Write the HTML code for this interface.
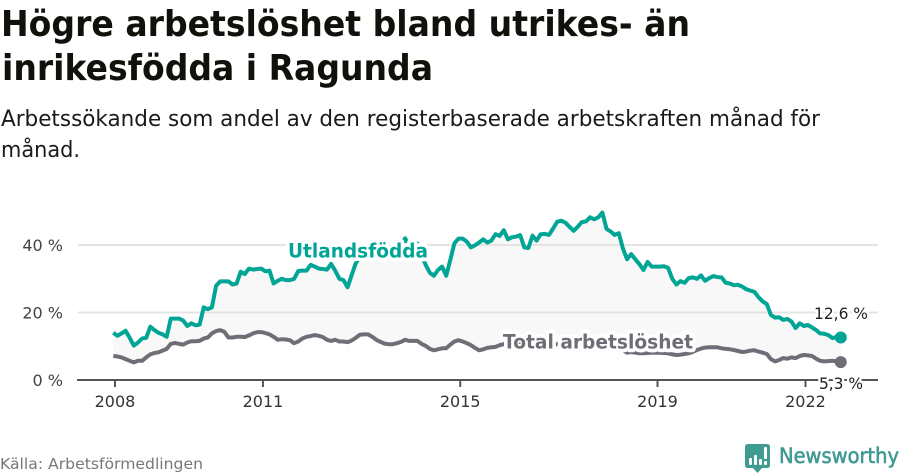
<!DOCTYPE html>
<html lang="sv">
<head>
<meta charset="utf-8">
<title>Högre arbetslöshet bland utrikes- än inrikesfödda i Ragunda</title>
<style>
html,body{margin:0;padding:0;background:#fff;}
svg{display:block;font-family:"DejaVu Sans","Liberation Sans",sans-serif;}
</style>
</head>
<body>
<svg id="chart" width="900" height="474" viewBox="0 0 900 474" xmlns="http://www.w3.org/2000/svg">
  <text x="1" y="36" font-size="36" font-weight="700" fill="#11110c" textLength="689" lengthAdjust="spacingAndGlyphs">Högre arbetslöshet bland utrikes- än</text>
  <text x="2" y="80" font-size="36" font-weight="700" fill="#11110c" textLength="431" lengthAdjust="spacingAndGlyphs">inrikesfödda i Ragunda</text>
  <text x="1" y="126" font-size="22" fill="#1a1a1a" textLength="819" lengthAdjust="spacingAndGlyphs">Arbetssökande som andel av den registerbaserade arbetskraften månad för</text>
  <text x="1" y="157" font-size="22" fill="#1a1a1a" textLength="79" lengthAdjust="spacingAndGlyphs">månad.</text>
  <g id="plot"></g>
  <text x="288" y="257.5" font-size="19.5" font-weight="700" fill="#00a595" stroke="#fff" stroke-width="7.5" stroke-linejoin="round" paint-order="stroke" textLength="140" lengthAdjust="spacingAndGlyphs">Utlandsfödda</text>
  <text x="503" y="348.5" font-size="19.5" font-weight="700" fill="#6f6e76" stroke="#fff" stroke-width="7.5" stroke-linejoin="round" paint-order="stroke" textLength="190" lengthAdjust="spacingAndGlyphs">Total arbetslöshet</text>
  <text x="868" y="319" font-size="16" text-anchor="end" fill="#222" stroke="#fff" stroke-width="5" stroke-linejoin="round" paint-order="stroke" textLength="54" lengthAdjust="spacingAndGlyphs">12,6 %</text>
  <text x="863" y="389" font-size="16" text-anchor="end" fill="#222" stroke="#fff" stroke-width="5" stroke-linejoin="round" paint-order="stroke" textLength="44" lengthAdjust="spacingAndGlyphs">5,3 %</text>
  <text x="0" y="469" font-size="15" fill="#77777c" textLength="203" lengthAdjust="spacingAndGlyphs">Källa: Arbetsförmedlingen</text>
  <g>
    <path d="M748 444H767Q770 444 770 447V465Q770 468 767 468H762L757.500 473L753 468H748Q745 468 745 465V447Q745 444 748 444Z" fill="#3f9a92"/>
    <rect x="749" y="458" width="3" height="7" rx="1" fill="#fff"/>
    <rect x="754" y="455" width="3" height="10" rx="1" fill="#fff"/>
    <rect x="759" y="459" width="3" height="6" rx="1" fill="#fff"/>
    <rect x="764" y="447" width="3" height="12" rx="1" fill="#fff"/>
    <rect x="764" y="461" width="3" height="4" rx="1" fill="#fff"/>
    <text x="779" y="463" font-size="21" font-weight="400" fill="#3f9a92" stroke="#3f9a92" stroke-width="0.6" textLength="120" lengthAdjust="spacingAndGlyphs">Newsworthy</text>
  </g>
</svg>
<script>
var foreignBorn = [14.0,13.1,13.8,14.6,12.5,10.2,11.1,12.3,12.5,15.8,14.8,14.0,13.5,12.8,18.2,18.2,18.2,17.6,16.0,16.8,16.2,16.4,21.5,21.0,21.5,27.9,29.2,29.2,29.2,28.3,28.6,32.1,31.4,33.0,32.7,32.9,33.0,32.2,32.4,28.6,29.4,30.0,29.6,29.6,30.0,32.3,32.4,32.4,34.1,33.6,33.0,32.9,32.7,34.4,32.4,30.0,29.6,27.5,31.1,34.6,36.5,37.5,38.5,38.5,39.0,38.5,39.0,39.5,38.5,38.7,40.0,42.0,39.5,38.5,40.5,37.0,34.1,31.8,30.9,32.6,33.6,30.9,35.6,40.5,41.9,41.9,41.0,39.3,39.9,40.7,41.7,40.7,41.3,43.2,42.7,44.4,41.7,42.3,42.5,42.9,39.3,39.1,42.8,41.3,43.2,43.3,43.0,44.9,46.9,47.2,46.6,45.4,44.2,45.4,46.8,47.0,48.2,47.6,48.2,49.6,44.8,44.0,43.0,43.5,39.0,35.8,37.3,35.8,34.3,32.6,35.0,33.6,33.6,33.6,33.7,33.2,30.0,28.3,29.3,28.8,30.2,30.4,30.0,31.0,29.4,30.2,30.8,30.5,30.4,28.8,28.6,28.1,28.2,27.7,26.9,26.5,26.1,24.5,23.3,22.5,19.3,18.5,18.6,17.8,18.1,17.3,15.4,16.8,16.0,16.3,15.6,14.8,13.8,13.7,13.3,12.4,12.8,12.6];
var totalRate = [7.1,7.0,6.7,6.2,5.7,5.2,5.7,5.7,6.7,7.6,8.0,8.2,8.7,9.2,10.7,11.0,10.7,10.5,11.1,11.5,11.5,11.6,12.3,12.6,13.8,14.5,14.8,14.3,12.6,12.6,12.8,12.8,12.7,13.2,13.8,14.2,14.2,13.9,13.5,12.8,11.9,12.1,12.0,11.8,10.9,11.4,12.3,12.8,13.0,13.3,13.1,12.7,11.9,11.6,11.9,11.4,11.4,11.2,11.7,12.5,13.4,13.5,13.5,12.8,11.9,11.3,10.8,10.6,10.6,10.9,11.3,11.9,11.6,11.6,11.6,10.7,10.1,9.2,8.8,9.1,9.4,9.4,10.5,11.4,11.8,11.4,10.9,10.3,9.5,8.8,9.1,9.5,9.7,9.8,10.3,10.6,11.0,11.2,11.0,10.8,10.6,10.9,11.0,10.7,10.6,10.9,10.7,10.5,10.6,10.4,10.3,10.5,10.2,10.0,9.9,9.9,10.0,10.0,9.8,9.8,9.6,9.6,9.4,9.2,8.8,8.1,8.3,8.1,7.9,7.9,8.0,8.1,8.1,8.1,8.0,7.9,7.6,7.4,7.5,7.7,7.9,8.3,8.9,9.3,9.6,9.7,9.7,9.7,9.4,9.2,9.1,8.9,8.6,8.3,8.4,8.7,8.8,8.4,8.1,7.7,6.2,5.5,5.9,6.5,6.3,6.7,6.5,7.1,7.4,7.3,7.1,6.3,5.7,5.5,5.6,5.7,5.5,5.3];
var yTicks = [0, 20, 40];
var yTickLabels = ['0 %', '20 %', '40 %'];
var xTickYears = [2008, 2011, 2015, 2019, 2022];

function xScale(month) { return 113.3 + 4.11 * month; }
function yScale(value) { return 380 - 3.375 * value; }
function yearToMonth(year) { return (year - 2008) * 12 + 0.41; }

var NS = 'http://www.w3.org/2000/svg';
var plot = document.getElementById('plot');

function make(tag, attrs, parent) {
  var el = document.createElementNS(NS, tag);
  for (var k in attrs) { el.setAttribute(k, attrs[k]); }
  (parent || plot).appendChild(el);
  return el;
}
function pathFrom(values) {
  return values.map(function (v, i) {
    return (i ? 'L' : 'M') + xScale(i).toFixed(1) + ' ' + yScale(v).toFixed(1);
  }).join('');
}

var n = Math.min(foreignBorn.length, totalRate.length);
var topVals = foreignBorn.slice(0, n);
var botVals = totalRate.slice(0, n);
var areaD = pathFrom(topVals);
for (var j = n - 1; j >= 0; j--) {
  areaD += 'L' + xScale(j).toFixed(1) + ' ' + yScale(botVals[j]).toFixed(1);
}
areaD += 'Z';

var area = make('path', { d: areaD, fill: '#f8f8f9' });



yTicks.forEach(function (t, i) {
  if (t !== 0) {
    var grid = make('line', { x1: 78, x2: 878, y1: yScale(t), y2: yScale(t), stroke: '#e4e4e4', 'stroke-width': 2 });
    
    
  }
  var lab = make('text', { x: 63, y: yScale(t) + 6, 'text-anchor': 'end', 'font-size': 16, fill: '#444' });
  lab.textContent = yTickLabels[i];
  
  
});

var axis = make('line', { x1: 77, x2: 878, y1: yScale(0), y2: yScale(0), stroke: '#555', 'stroke-width': 2 });



xTickYears.forEach(function (year) {
  var x = xScale(yearToMonth(year));
  var tick = make('line', { x1: x, x2: x, y1: yScale(0), y2: yScale(0) + 7, stroke: '#555', 'stroke-width': 2 });
  
  
  var lab = make('text', { x: x, y: 407, 'text-anchor': 'middle', 'font-size': 16, fill: '#333' });
  lab.textContent = String(year);
  
  
});

var lineTotal = make('path', { d: pathFrom(botVals), fill: 'none', stroke: '#6f6e76', 'stroke-width': 4, 'stroke-linejoin': 'round' });



var lineForeign = make('path', { d: pathFrom(topVals), fill: 'none', stroke: '#00a595', 'stroke-width': 4, 'stroke-linejoin': 'round' });



var dotForeign = make('circle', { cx: xScale(n - 1), cy: yScale(topVals[n - 1]), r: 6, fill: '#00a595' });



var dotTotal = make('circle', { cx: xScale(n - 1), cy: yScale(botVals[n - 1]), r: 6, fill: '#6f6e76' });


</script>
</body>
</html>
